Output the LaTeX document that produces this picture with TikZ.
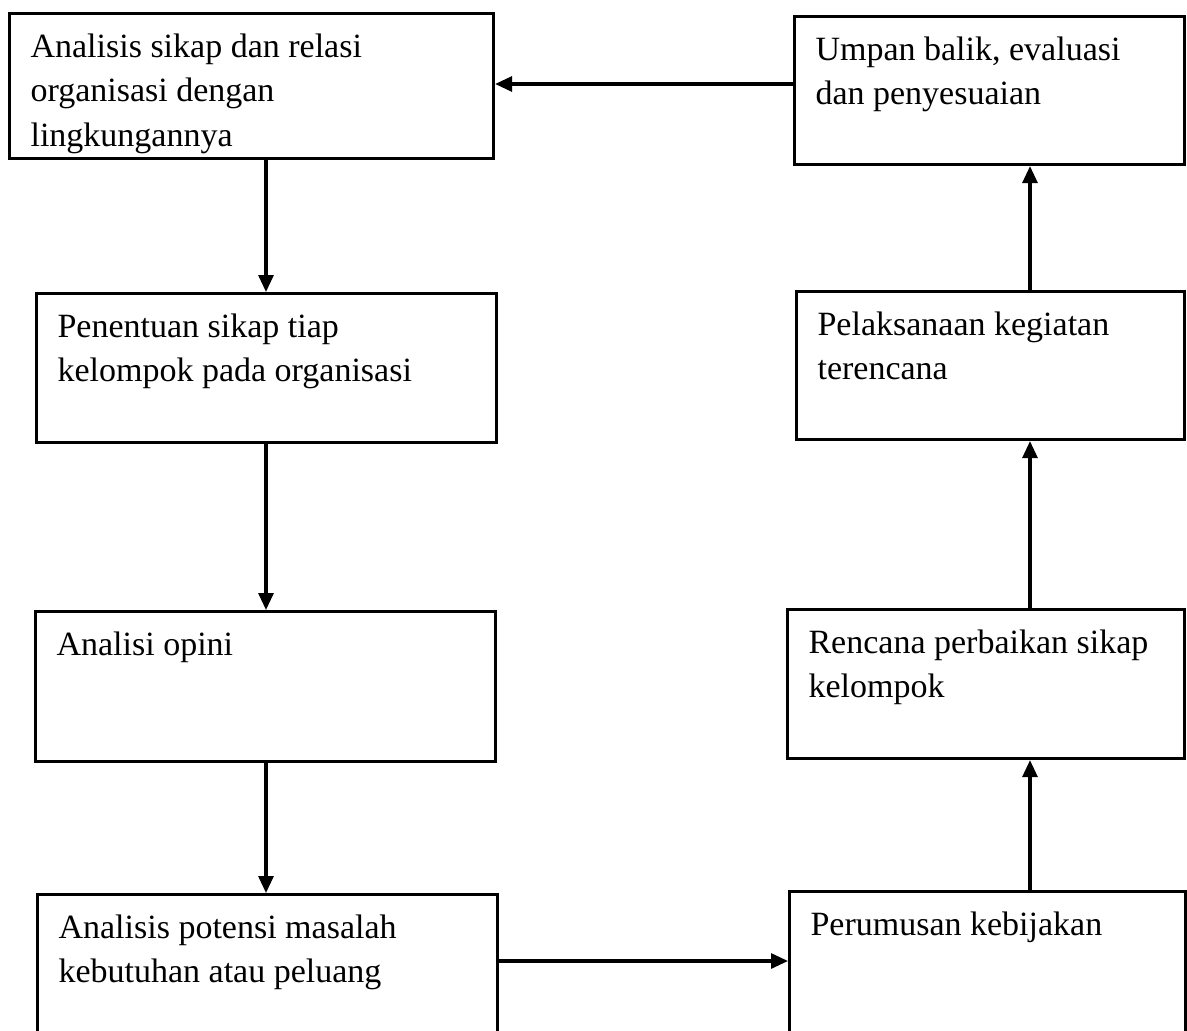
\documentclass[tikz,border=0pt]{standalone}
\usepackage{fontspec}
\setmainfont{Liberation Serif}
\usetikzlibrary{arrows.meta}

\begin{document}
\begin{tikzpicture}[x=1pt, y=-1pt, line width=3.1pt,
    >={Triangle[length=17pt,width=15pt]},
    box/.style={draw, inner sep=0pt, anchor=north west},
    txt/.style={anchor=north west, inner sep=0pt, align=left,
      font=\fontsize{34}{44.5}\selectfont}]
  \useasboundingbox (0,0) rectangle (1187,1031);
  \coordinate (kiri) at (266,0);
  \coordinate (kanan) at (1030,0);
  \coordinate (atas) at (0,84);
  \coordinate (bawah) at (0,961);

  % kolom kiri
  \node[box, minimum width=484, minimum height=145] (sikap) at (8,12) {};
  \node[box, minimum width=460, minimum height=149] (penentuan) at (35,292) {};
  \node[box, minimum width=460, minimum height=150] (opini) at (34,610) {};
  \node[box, minimum width=460, minimum height=170] (potensi) at (36,893) {};
  \node[txt] (sikap-t) at ([xshift=21pt,yshift=-20pt]sikap.north west)
    {Analisis sikap dan relasi\\organisasi dengan\\lingkungannya};
  \node[txt] (penentuan-t) at ([xshift=21pt,yshift=-20pt]penentuan.north west)
    {Penentuan sikap tiap\\kelompok pada organisasi};
  \node[txt] (opini-t) at ([xshift=21pt,yshift=-20pt]opini.north west)
    {Analisi opini};
  \node[txt] (potensi-t) at ([xshift=21pt,yshift=-20pt]potensi.north west)
    {Analisis potensi masalah\\kebutuhan atau peluang};

  % kolom kanan
  \node[box, minimum width=390, minimum height=148] (umpan) at (793,15) {};
  \node[box, minimum width=388, minimum height=148] (pelaksanaan) at (795,290) {};
  \node[box, minimum width=397, minimum height=149] (rencana) at (786,608) {};
  \node[box, minimum width=396, minimum height=170] (kebijakan) at (788,890) {};
  \node[txt] (umpan-t) at ([xshift=21pt,yshift=-20pt]umpan.north west)
    {Umpan balik, evaluasi\\dan penyesuaian};
  \node[txt] (pelaksanaan-t) at ([xshift=21pt,yshift=-20pt]pelaksanaan.north west)
    {Pelaksanaan kegiatan\\terencana};
  \node[txt] (rencana-t) at ([xshift=21pt,yshift=-20pt]rencana.north west)
    {Rencana perbaikan sikap\\kelompok};
  \node[txt] (kebijakan-t) at ([xshift=21pt,yshift=-20pt]kebijakan.north west)
    {Perumusan kebijakan};

  % panah
  \draw[->] (sikap.south -| kiri) -- (penentuan.north -| kiri);
  \draw[->] (penentuan.south -| kiri) -- (opini.north -| kiri);
  \draw[->] (opini.south -| kiri) -- (potensi.north -| kiri);
  \draw[->] (potensi.east |- bawah) -- (kebijakan.west |- bawah);
  \draw[->] (kebijakan.north -| kanan) -- (rencana.south -| kanan);
  \draw[->] (rencana.north -| kanan) -- (pelaksanaan.south -| kanan);
  \draw[->] (pelaksanaan.north -| kanan) -- (umpan.south -| kanan);
  \draw[->] (umpan.west |- atas) -- (sikap.east |- atas);
\end{tikzpicture}
\end{document}
